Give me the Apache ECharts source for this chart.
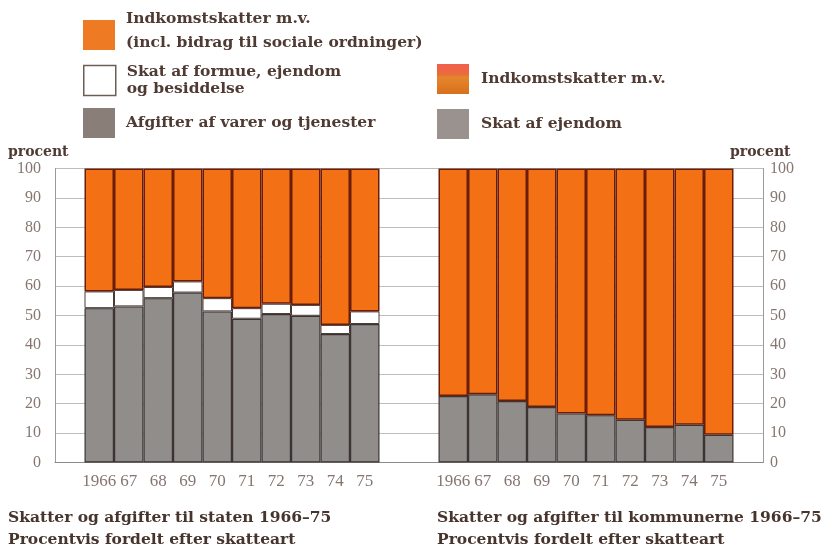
<!DOCTYPE html>
<html>
<head>
<meta charset="utf-8">
<script src="https://cdn.jsdelivr.net/npm/echarts@6/dist/echarts.min.js"></script>
<style>
  html, body { margin: 0; padding: 0; background: #fff; }
  #chart { width: 829px; height: 550px; }
</style>
</head>
<body>
<div id="chart"></div>
<script>
// Years on both panels
const years = ['1966', '67', '68', '69', '70', '71', '72', '73', '74', '75'];

// Staten: percentage split by tax type
const statAfgifter = [52.5, 53.1, 55.9, 57.8, 51.4, 48.9, 50.5, 49.9, 43.7, 47.1];
const statFormue   = [5.7, 5.6, 3.8, 3.8, 4.5, 3.6, 3.5, 3.7, 3.1, 4.3];
const statIndkomst = [41.8, 41.3, 40.3, 38.4, 44.1, 47.5, 46.0, 46.4, 53.2, 48.6];

// Kommunerne: percentage split by tax type
const kommuneEjendom   = [22.6, 23.2, 20.9, 18.9, 16.7, 16.1, 14.5, 12.1, 12.8, 9.4];
const kommuneIndkomst  = [77.4, 76.8, 79.1, 81.1, 83.3, 83.9, 85.5, 87.9, 87.2, 90.6];

// Percent axis ticks
const yTicks = { min: 0, max: 100, interval: 10 };

// Each panel has an empty slot on either side of the ten bars
const pad = arr => ['-', ...arr, '-'];
const padCats = ['', ...years, ''];

const ORANGE = '#f37015';
const GREY = '#918d8b';
const SERIF = '"Liberation Serif", "DejaVu Serif", serif';
const BOLD = '"DejaVu Serif", "Liberation Serif", serif';
const INK = '#4f3b33';
const TICK = '#857670';
const GRID = '#bdbdbd';

const chart = echarts.init(document.getElementById('chart'));

const xAxisBase = {
  type: 'category',
  data: padCats,
  boundaryGap: true,
  axisTick: { show: false },
  axisLine: { show: true, lineStyle: { color: '#8a8a8a', width: 1 } },
  axisLabel: { color: TICK, fontFamily: SERIF, fontSize: 17, margin: 11, interval: 0 },
  splitLine: { show: false }
};
const yAxisBase = {
  type: 'value',
  min: yTicks.min, max: yTicks.max, interval: yTicks.interval,
  axisTick: { show: false },
  axisLine: { show: true, lineStyle: { color: '#9a9a9a', width: 1 } },
  splitLine: { show: true, lineStyle: { color: GRID, width: 1 } }
};

const barBase = {
  type: 'bar',
  barWidth: '100%',
  barCategoryGap: 0,
  silent: true
};

const legendText = { color: INK, fontFamily: BOLD, fontWeight: 'bold', fontSize: 15.5 };
const legendBase = {
  orient: 'vertical',
  padding: 0,
  itemWidth: 32,
  itemHeight: 30,
  icon: 'rect',
  selectedMode: false
};

const nameIndkomstStat = 'Indkomstskatter m.v.\n(incl. bidrag til sociale ordninger)';
const nameFormue = 'Skat af formue, ejendom\nog besiddelse';
const nameAfgifter = 'Afgifter af varer og tjenester';
const nameIndkomstKom = 'Indkomstskatter m.v.';
const nameEjendom = 'Skat af ejendom';

const titleStyle = { color: '#46342d', fontFamily: BOLD, fontWeight: 'bold', fontSize: 15.5, lineHeight: 22 };

chart.setOption({
  backgroundColor: '#ffffff',
  animation: false,
  grid: [
    { left: 55, top: 168.5, width: 354, height: 294 },
    { left: 409, top: 168.5, width: 354, height: 294 }
  ],
  xAxis: [
    Object.assign({ gridIndex: 0 }, xAxisBase),
    Object.assign({ gridIndex: 1 }, xAxisBase)
  ],
  yAxis: [
    Object.assign({ gridIndex: 0, position: 'left',
      axisLabel: { color: TICK, fontFamily: SERIF, fontSize: 16, margin: 14 } }, yAxisBase),
    Object.assign({ gridIndex: 1, position: 'right',
      axisLabel: { color: TICK, fontFamily: SERIF, fontSize: 16, margin: 7 } }, yAxisBase)
  ],
  title: [
    { text: 'procent', left: 8, top: 145, padding: 0,
      textStyle: { color: INK, fontFamily: BOLD, fontWeight: 'bold', fontSize: 14 } },
    { text: 'procent', left: 730, top: 145, padding: 0,
      textStyle: { color: INK, fontFamily: BOLD, fontWeight: 'bold', fontSize: 14 } },
    { text: 'Skatter og afgifter til staten 1966–75\nProcentvis fordelt efter skatteart',
      left: 8, top: 507, padding: 0, textStyle: titleStyle },
    { text: 'Skatter og afgifter til kommunerne 1966–75\nProcentvis fordelt efter skatteart',
      left: 437, top: 507, padding: 0, textStyle: titleStyle }
  ],
  legend: [
    Object.assign({}, legendBase, {
      left: 83, top: 11,
      data: [{ name: nameIndkomstStat, itemStyle: { color: '#ef7a24', borderWidth: 0 } }],
      // two text lines sit slightly above the swatch centre: a short empty line below lifts them
      formatter: name => name.split('\n').map(s => '{a|' + s + '}').join('\n') + '\n{b|}',
      textStyle: Object.assign({}, legendText, {
        padding: [0, 0, 0, 6],
        rich: {
          a: Object.assign({}, legendText, { lineHeight: 24 }),
          b: { lineHeight: 8, fontSize: 1 }
        }
      })
    }),
    Object.assign({}, legendBase, {
      left: 83, top: 63.5,
      data: [{ name: nameFormue, itemStyle: { color: '#ffffff', borderColor: '#6e5d55', borderWidth: 1.5 } }],
      textStyle: Object.assign({}, legendText, { lineHeight: 17, padding: [0, 0, 0, 6] })
    }),
    Object.assign({}, legendBase, {
      left: 83, top: 108,
      data: [{ name: nameAfgifter, itemStyle: { color: '#8a7e78', borderWidth: 0 } }],
      textStyle: Object.assign({}, legendText, { padding: [0, 0, 0, 6] })
    }),
    Object.assign({}, legendBase, {
      left: 437, top: 64,
      data: [{ name: nameIndkomstKom, itemStyle: {
        color: new echarts.graphic.LinearGradient(0, 0, 0, 1, [
          { offset: 0, color: '#f0604e' }, { offset: 0.35, color: '#ea6c3a' },
          { offset: 0.45, color: '#e4862c' }, { offset: 1, color: '#d8701c' }
        ]), borderWidth: 0 } }],
      textStyle: Object.assign({}, legendText, { padding: [0, 0, 0, 7] })
    }),
    Object.assign({}, legendBase, {
      left: 437, top: 109,
      data: [{ name: nameEjendom, itemStyle: { color: '#9a928e', borderWidth: 0 } }],
      textStyle: Object.assign({}, legendText, { padding: [0, 0, 0, 7] })
    })
  ],
  series: [
    Object.assign({}, barBase, {
      name: nameAfgifter, xAxisIndex: 0, yAxisIndex: 0, stack: 'stat',
      data: pad(statAfgifter),
      itemStyle: { color: GREY, borderColor: '#3b3432', borderWidth: 1.2 }
    }),
    Object.assign({}, barBase, {
      name: nameFormue, xAxisIndex: 0, yAxisIndex: 0, stack: 'stat',
      data: pad(statFormue),
      itemStyle: { color: '#ffffff', borderColor: '#4a3a35', borderWidth: 1 }
    }),
    Object.assign({}, barBase, {
      name: nameIndkomstStat, xAxisIndex: 0, yAxisIndex: 0, stack: 'stat',
      data: pad(statIndkomst),
      itemStyle: { color: ORANGE, borderColor: '#6a1d08', borderWidth: 1.5 }
    }),
    Object.assign({}, barBase, {
      name: nameEjendom, xAxisIndex: 1, yAxisIndex: 1, stack: 'kom',
      data: pad(kommuneEjendom),
      itemStyle: { color: GREY, borderColor: '#3b3432', borderWidth: 1.2 }
    }),
    Object.assign({}, barBase, {
      name: nameIndkomstKom, xAxisIndex: 1, yAxisIndex: 1, stack: 'kom',
      data: pad(kommuneIndkomst),
      itemStyle: { color: ORANGE, borderColor: '#6a1d08', borderWidth: 1.5 }
    })
  ]
});
</script>
</body>
</html>
